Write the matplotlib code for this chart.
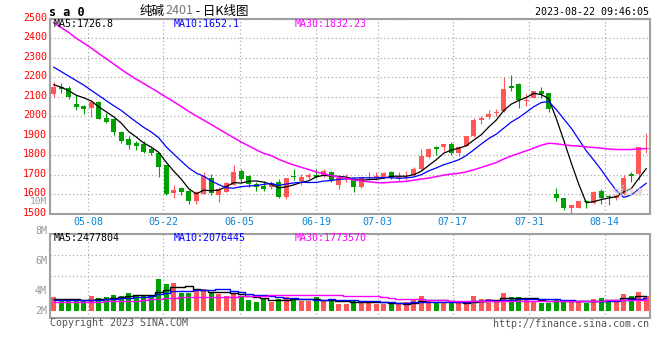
import numpy as np
import pandas as pd
import matplotlib
matplotlib.use("Agg")
import matplotlib.pyplot as plt
import matplotlib.transforms as mtransforms

# daily candles, 2023-04-26 .. 2023-08-22 (80 sessions)
open_ = [2114, 2148, 2143, 2065, 2053, 2044, 2073, 1989, 1984, 1919,
         1883, 1863, 1858, 1830, 1812, 1752, 1608, 1633, 1617, 1567,
         1604, 1683, 1594, 1614, 1650, 1718, 1694, 1655, 1644, 1639,
         1663, 1586, 1695, 1668, 1687, 1700, 1697, 1712, 1648, 1676,
         1673, 1636, 1685, 1687, 1691, 1713, 1685, 1686, 1698, 1730,
         1792, 1842, 1842, 1859, 1812, 1847, 1898, 1980, 1997, 2017,
         2026, 2156, 2166, 2081, 2095, 2132, 2122, 1600, 1583, 1532,
         1532, 1564, 1553, 1617, 1593, 1580, 1603, 1705, 1705, 1830]
high = [2176, 2172, 2155, 2107, 2060, 2085, 2077, 2018, 1988, 1926,
        1900, 1873, 1873, 1841, 1812, 1752, 1646, 1639, 1622, 1615,
        1714, 1704, 1638, 1663, 1752, 1728, 1700, 1664, 1670, 1668,
        1677, 1683, 1730, 1704, 1707, 1731, 1728, 1718, 1682, 1706,
        1685, 1690, 1714, 1712, 1716, 1720, 1714, 1717, 1740, 1830,
        1836, 1847, 1859, 1867, 1849, 1901, 1990, 2003, 2034, 2036,
        2200, 2210, 2173, 2112, 2132, 2149, 2122, 1631, 1583, 1546,
        1566, 1573, 1617, 1627, 1597, 1600, 1698, 1715, 1844, 1915]
low = [2097, 2121, 2087, 2032, 2013, 1996, 1988, 1967, 1902, 1865,
       1834, 1827, 1812, 1800, 1690, 1598, 1583, 1596, 1552, 1550,
       1601, 1597, 1559, 1610, 1646, 1663, 1639, 1618, 1615, 1625,
       1579, 1576, 1671, 1649, 1677, 1683, 1687, 1663, 1627, 1661,
       1612, 1632, 1672, 1672, 1683, 1678, 1667, 1672, 1695, 1726,
       1786, 1802, 1822, 1803, 1794, 1847, 1895, 1963, 1987, 2003,
       2024, 2129, 2045, 2054, 2092, 2095, 2020, 1566, 1519, 1505,
       1529, 1529, 1549, 1549, 1546, 1573, 1597, 1664, 1671, 1810]
close = [2152, 2141, 2097, 2049, 2036, 2071, 1988, 1972, 1919, 1875,
         1854, 1849, 1818, 1813, 1741, 1600, 1622, 1613, 1567, 1610,
         1693, 1609, 1628, 1656, 1714, 1681, 1654, 1638, 1625, 1660,
         1586, 1683, 1687, 1690, 1700, 1688, 1721, 1668, 1684, 1680,
         1636, 1688, 1690, 1692, 1709, 1683, 1690, 1690, 1730, 1798,
         1834, 1834, 1858, 1810, 1845, 1898, 1980, 1993, 2010, 2022,
         2142, 2146, 2085, 2086, 2129, 2112, 2037, 1580, 1529, 1546,
         1566, 1561, 1610, 1583, 1586, 1597, 1685, 1695, 1844, 1837]
# volume, millions of lots
volume = [2.25, 1.71, 1.71, 1.71, 1.62, 2.43, 2.07, 2.25, 2.61, 2.43,
          2.97, 2.43, 2.43, 2.52, 5.31, 4.41, 4.68, 2.97, 2.97, 3.33,
          3.60, 2.97, 2.79, 2.52, 2.97, 2.43, 1.80, 1.53, 1.89, 1.53,
          1.89, 2.34, 2.07, 1.62, 1.62, 2.34, 1.62, 1.78, 1.12, 1.12,
          1.78, 1.56, 1.61, 1.12, 1.12, 1.12, 1.12, 1.44, 1.78, 2.45,
          1.78, 1.44, 1.22, 1.44, 1.22, 1.22, 2.45, 1.95, 1.95, 1.50,
          2.95, 2.29, 2.29, 1.78, 1.44, 1.33, 1.33, 1.78, 1.78, 1.44,
          1.44, 1.33, 1.95, 2.12, 1.78, 1.78, 2.78, 2.45, 3.11, 2.45]

# moving-average values before enough in-window history exists
ma5_head = [2162, 2149, 2131, 2108]
ma10_head = [2252, 2229, 2206, 2183, 2160, 2133, 2107, 2080, 2054]
ma30_head = [2480, 2455, 2430, 2400, 2375, 2350, 2322, 2295, 2268, 2240,
             2215, 2190, 2168, 2145, 2122, 2098, 2075, 2050, 2025, 2002,
             1980, 1958, 1935, 1912, 1890, 1868, 1848, 1828, 1810]
vma5_head = [2.0, 2.0, 1.98, 1.95]
vma10_head = [1.7, 1.7, 1.7, 1.72, 1.75, 1.8, 1.85, 1.9, 1.95]
vma30_head = [1.5, 1.5, 1.5, 1.5, 1.5, 1.5, 1.5, 1.6, 1.65, 1.67,
              1.67, 1.67, 1.7, 1.9, 1.95, 2.05, 2.12, 2.2, 2.25, 2.3,
              2.3, 2.3, 2.3, 2.3, 2.33, 2.4, 2.42, 2.44, 2.45]

tick_labels = ["05-08", "05-22", "06-05", "06-19", "07-03", "07-17", "07-31", "08-14"]
tick_pos = [4.55, 14.6, 24.8, 35.0, 43.2, 53.2, 63.4, 73.45]


def moving(values, n, head):
    s = pd.Series(values, dtype=float).rolling(n).mean()
    s.iloc[:len(head)] = head
    return s.to_numpy()


RED, GREEN = "#ff5656", "#00a000"
GRID = dict(color="#aaaaaa", linestyle=(0, (1, 2)), linewidth=0.9)
MONO = "DejaVu Sans Mono"
W, H = 660, 360

fig = plt.figure(figsize=(6.6, 3.6), dpi=100)


def box(l, t, r, b):
    return [l / W, 1 - b / H, (r - l) / W, (b - t) / H]


def ftext(xp, yp, s, **kw):
    kw.setdefault("family", MONO)
    kw.setdefault("fontsize", 7.2)
    kw.setdefault("va", "center")
    return fig.text(xp / W, 1 - yp / H, s, **kw)


ax = fig.add_axes(box(50, 18.8, 650, 213.8))
axv = fig.add_axes(box(50, 234, 650, 318))

o, h, l, c = map(np.asarray, (open_, high, low, close))
x = np.arange(len(c))
colors = np.where(c >= o, RED, GREEN)

# candles
ax.vlines(x, l, h, colors=colors, lw=0.8, zorder=3)
ax.bar(x, np.maximum(np.abs(c - o), 5), bottom=np.minimum(o, c), width=0.72,
       color=colors, linewidth=0, zorder=3)
ax.plot(x, moving(close, 5, ma5_head), color="black", lw=0.9, zorder=4)
ax.plot(x, moving(close, 10, ma10_head), color="#0000ff", lw=0.9, zorder=4)
ax.plot(x, moving(close, 30, ma30_head), color="#ff00ff", lw=1.1, zorder=4)

ax.set_xlim(-0.5, len(x) - 0.5)
ax.set_ylim(1500, 2500)
ax.set_yticks(range(1500, 2501, 100))
ax.set_xticks(tick_pos)
ax.set_xticklabels(tick_labels, family=MONO, fontsize=7.2, color="#0a84d6")
ax.tick_params(axis="x", length=0, pad=2.5)
ax.tick_params(axis="y", length=0, pad=2.2, labelcolor="#ff0000", labelsize=7.2)
for lab in ax.get_yticklabels():
    lab.set_family(MONO)
    lab.set_transform(lab.get_transform()
                      + mtransforms.ScaledTranslation(0, 1.6 / 72, fig.dpi_scale_trans))
ax.grid(True, **GRID)
ax.set_axisbelow(True)

# volume
axv.bar(x, volume, width=0.72, color=colors, linewidth=0, zorder=3)
axv.plot(x, moving(volume, 5, vma5_head), color="black", lw=1.0, drawstyle="steps-mid", zorder=4)
axv.plot(x, moving(volume, 10, vma10_head), color="#0000ff", lw=1.0, drawstyle="steps-mid", zorder=4)
axv.plot(x, moving(volume, 30, vma30_head), color="#ff00ff", lw=1.0, drawstyle="steps-mid", zorder=4)
axv.set_xlim(-0.5, len(x) - 0.5)
axv.set_ylim(-1.22, 12.78)
axv.set_xticks(tick_pos)
axv.set_yticks([5.78, 9.28])
axv.tick_params(length=0, labelbottom=False, labelleft=False)
axv.grid(True, **GRID)
axv.set_axisbelow(True)

for a in (ax, axv):
    for sp in a.spines.values():
        sp.set_color("#a0a0a0")
        sp.set_linewidth(1.5)

# header
ftext(49, 12, "s a 0", fontsize=8.5, fontweight="bold", ha="left")
t = ftext(140, 11, "纯碱", family=["Noto Sans CJK SC", "DejaVu Sans"], fontsize=9, ha="left")
fig.canvas.draw()
r = fig.canvas.get_renderer()
for s, col in (("2401", "#777777"), (" - 日K线图", "black")):
    x1 = t.get_window_extent(r).x1
    t = fig.text(x1 / W, 1 - 11 / H, s, family=["Noto Sans CJK SC", "DejaVu Sans"],
                 fontsize=9, color=col, ha="left", va="center")
ftext(649, 12, "2023-08-22 09:46:05", ha="right")

ftext(54, 24, "MA5:1726.8", ha="left", color="black")
ftext(174, 24, "MA10:1652.1", ha="left", color="#0000ff")
ftext(295, 24, "MA30:1832.23", ha="left", color="#ff00ff")
ftext(47, 202, "10M", ha="right", color="#999999", fontsize=6.8)

ftext(54, 238, "MA5:2477804", ha="left", color="black")
ftext(174, 238, "MA10:2076445", ha="left", color="#0000ff")
ftext(295, 238, "MA30:1773570", ha="left", color="#ff00ff")
for s, yp in (("8M", 231), ("6M", 261), ("4M", 291), ("2M", 310.7)):
    ftext(47, yp, s, ha="right", color="#999999")

ftext(50, 323.5, "Copyright 2023 SINA.COM", ha="left", color="#555555")
ftext(649, 324, "http://finance.sina.com.cn", ha="right", color="#555555")
ftext(628, 192, "sina", family="DejaVu Sans", fontsize=10, fontweight="bold",
      style="italic", color="#d8c8c8", alpha=0.7, ha="center")

fig.savefig("out.png", dpi=100)
